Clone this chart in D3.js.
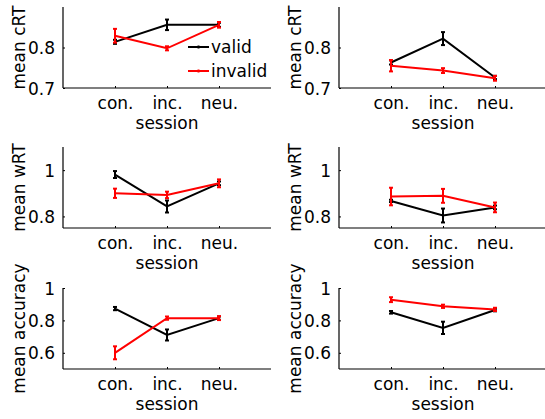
<!DOCTYPE html>
<html><head><meta charset="utf-8">
<script src="https://cdn.jsdelivr.net/npm/d3@7"></script>
<style>
body{margin:0;background:#fff;}
text{font-family:"DejaVu Sans",sans-serif;fill:#000;}
</style></head>
<body><svg id="c" width="545" height="419"></svg>
<script>
const categories = ["con.", "inc.", "neu."];
const seriesNames = ["valid", "invalid"];
const yLabels = ["mean cRT", "mean wRT", "mean accuracy"];
const yDomains = [[0.7, 0.9], [0.75, 1.1], [0.5, 1]];
const yTicks = [[0.7, 0.8], [0.8, 1], [0.6, 0.8, 1]];
const xLabel = "session";

// [row][col]
const validMean = [
  [[0.814, 0.856, 0.856], [0.763, 0.822, 0.726]],
  [[0.981, 0.843, 0.943], [0.867, 0.804, 0.839]],
  [[0.873, 0.710, 0.814], [0.850, 0.754, 0.864]]
];
const validErr = [
  [[0.005, 0.013, 0.005], [0.005, 0.016, 0.004]],
  [[0.015, 0.026, 0.008], [0.005, 0.030, 0.008]],
  [[0.010, 0.034, 0.010], [0.008, 0.038, 0.008]]
];
const invalidMean = [
  [[0.829, 0.798, 0.856], [0.755, 0.743, 0.724]],
  [[0.900, 0.893, 0.943], [0.886, 0.889, 0.839]],
  [[0.600, 0.814, 0.814], [0.928, 0.887, 0.868]]
];
const invalidErr = [
  [[0.017, 0.005, 0.007], [0.014, 0.006, 0.006]],
  [[0.020, 0.014, 0.017], [0.038, 0.030, 0.021]],
  [[0.040, 0.010, 0.012], [0.015, 0.010, 0.010]]
];

const colors = ["#000000", "#ff0000"];
const svg = d3.select("#c");
const colX = [63, 339];
const rowY = [7, 147, 288];
const W = 208, H = 81;

for (let r = 0; r < 3; r++) {
  for (let c = 0; c < 2; c++) {
    const g = svg.append("g").attr("transform", `translate(${colX[c]},${rowY[r]})`);
    const x = d3.scaleLinear().domain([0, 4]).range([0, W]);
    const y = d3.scaleLinear().domain(yDomains[r]).range([H, 0]);

    // y axis
    const ya = g.append("g").call(d3.axisLeft(y).tickValues(yTicks[r]).tickSize(-2).tickPadding(8)
      .tickFormat(d => d3.format("")(+d.toFixed(2))));
    ya.select(".domain").remove();
    ya.selectAll("text").style("font-size", "17px").attr("dy", "0.36em");
    ya.selectAll("line").attr("stroke", "#000");
    g.append("line").attr("x1", 0).attr("x2", 0).attr("y1", 0).attr("y2", H).attr("stroke", "#000").attr("stroke-width", 1.2);

    // x axis
    const xa = g.append("g").attr("transform", `translate(0,${H})`)
      .call(d3.axisBottom(x).tickValues([1, 2, 3]).tickSize(-2).tickPadding(0).tickFormat((d, i) => categories[i]));
    xa.select(".domain").remove();
    xa.selectAll("text").style("font-size", "17px").attr("y", 21).attr("dy", 0);
    xa.selectAll("line").attr("stroke", "#000");
    g.append("line").attr("x1", 0).attr("x2", W).attr("y1", H).attr("y2", H).attr("stroke", "#000").attr("stroke-width", 1.2);

    g.append("text").attr("x", W / 2).attr("y", H + 41).attr("text-anchor", "middle")
      .style("font-size", "17px").text(xLabel);
    g.append("text").attr("transform", `translate(-38,${H / 2}) rotate(-90)`).attr("text-anchor", "middle")
      .style("font-size", "17px").text(yLabels[r]);

    const sets = [[validMean[r][c], validErr[r][c]], [invalidMean[r][c], invalidErr[r][c]]];
    sets.forEach(([m, e], s) => {
      const pts = m.map((v, i) => ({x: i + 1, v, e: e[i]}));
      g.append("path").datum(pts).attr("fill", "none").attr("stroke", colors[s]).attr("stroke-width", 2)
        .attr("d", d3.line().x(d => x(d.x)).y(d => y(d.v)));
      pts.forEach(d => {
        g.append("line").attr("x1", x(d.x)).attr("x2", x(d.x)).attr("y1", y(d.v - d.e)).attr("y2", y(d.v + d.e))
          .attr("stroke", colors[s]).attr("stroke-width", 2);
        [d.v - d.e, d.v + d.e].forEach(yy => {
          g.append("line").attr("x1", x(d.x) - 2).attr("x2", x(d.x) + 2).attr("y1", y(yy)).attr("y2", y(yy))
            .attr("stroke", colors[s]).attr("stroke-width", 2);
        });
      });
    });

    if (r === 0 && c === 0) {
      const lg = g.append("g").attr("transform", `translate(${188 - colX[0]},0)`);
      seriesNames.forEach((n, i) => {
        const yy = 47 - rowY[0] + i * 24;
        lg.append("line").attr("x1", 0).attr("x2", 21).attr("y1", yy).attr("y2", yy).attr("stroke", colors[i]).attr("stroke-width", 2);
        lg.append("line").attr("x1", 10.5).attr("x2", 10.5).attr("y1", yy - 1.5).attr("y2", yy + 1.5).attr("stroke", colors[i]).attr("stroke-width", 2);
        lg.append("text").attr("x", 23).attr("y", yy + 6).style("font-size", "17px").text(n);
      });
    }
  }
}
</script></body></html>
